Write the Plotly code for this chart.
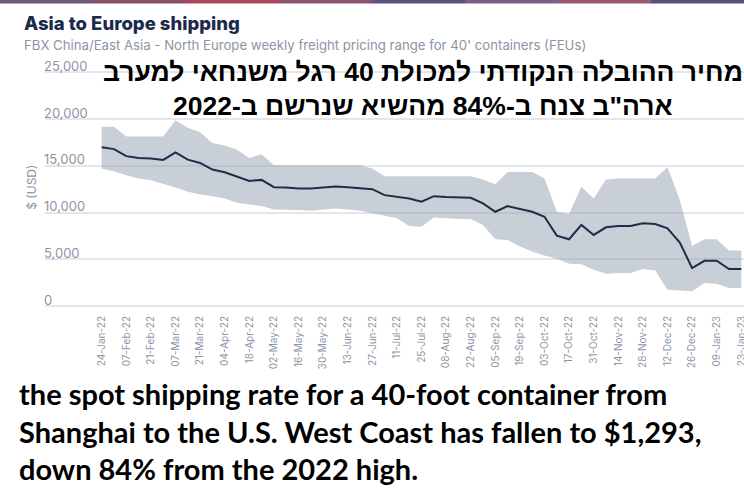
import datetime as dt
import plotly.graph_objects as go

# ---------------- data ----------------
weeks = [
    "2022-01-24", "2022-01-31", "2022-02-07", "2022-02-14", "2022-02-21", "2022-02-28",
    "2022-03-07", "2022-03-14", "2022-03-21", "2022-03-28", "2022-04-04", "2022-04-11",
    "2022-04-18", "2022-04-25", "2022-05-02", "2022-05-09", "2022-05-16", "2022-05-23",
    "2022-05-30", "2022-06-06", "2022-06-13", "2022-06-20", "2022-06-27", "2022-07-04",
    "2022-07-11", "2022-07-18", "2022-07-25", "2022-08-01", "2022-08-08", "2022-08-15",
    "2022-08-22", "2022-08-29", "2022-09-05", "2022-09-12", "2022-09-19", "2022-09-26",
    "2022-10-03", "2022-10-10", "2022-10-17", "2022-10-24", "2022-10-31", "2022-11-07",
    "2022-11-14", "2022-11-21", "2022-11-28", "2022-12-05", "2022-12-12", "2022-12-19",
    "2022-12-26", "2023-01-02", "2023-01-09", "2023-01-16", "2023-01-23",
]

price_mid = [
    17000, 16800, 16050, 15850, 15800, 15650, 16450, 15670, 15320, 14610,
    14330, 13830, 13400, 13510, 12730, 12700, 12590, 12590, 12700, 12800,
    12730, 12660, 12520, 11880, 11700, 11520, 11170, 11770, 11670, 11600,
    11600, 10990, 10100, 10710, 10390, 10100, 9570, 7550, 7160, 8690,
    7620, 8440, 8580, 8580, 8865, 8790, 8330, 6810, 4080, 4860,
    4860, 3970, 3970,
]

price_high = [
    19200, 19200, 18150, 18150, 18150, 18150, 19900, 19080, 18600, 17450,
    17200, 16740, 15850, 16240, 15070, 15070, 15070, 15070, 15070, 15070,
    15070, 15070, 14720, 13900, 13900, 13900, 13900, 13900, 13900, 13900,
    13900, 13545, 13050, 14360, 14360, 14360, 13650, 10100, 9860, 12770,
    11520, 13550, 13650, 13650, 13650, 13650, 14890, 11350, 6450, 7160,
    7160, 5960, 5960,
]

price_low = [
    14700, 14430, 14000, 13650, 13475, 13120, 12700, 12230, 11950, 11770,
    11520, 11060, 10890, 10710, 10350, 10350, 10280, 10210, 10350, 10460,
    10350, 10210, 9930, 9645, 9400, 8580, 8510, 9500, 9400, 9330,
    9330, 8690, 7160, 7090, 6380, 5850, 5425, 5070, 4540, 4500,
    3900, 3475, 3550, 3550, 3970, 3830, 1770, 1700, 1600, 2480,
    2410, 1950, 1950,
]

y_ticks = [0, 5000, 10000, 15000, 20000, 25000]

title_text = "Asia to Europe shipping"
subtitle_text = "FBX China/East Asia - North Europe weekly freight pricing range for 40' containers (FEUs)"
y_title = "$ (USD)"
hebrew_lines = [
    "מחיר ההובלה הנקודתי למכולת 40 רגל משנחאי למערב",
    "ארה\"ב צנח ב-84% מהשיא שנרשם ב-2022",
]
english_lines = [
    "the spot shipping rate for a 40-foot container from",
    "Shanghai to the U.S. West Coast has fallen to $1,293,",
    "down 84% from the 2022 high.",
]

# ---------------- layout geometry (pixels) ----------------
W, H = 744, 493
PLOT_L, PLOT_R = 45, 744
PLOT_T, PLOT_B = 52.0, 309.5
X_FIRST_PX, PX_PER_WEEK = 101.7, 12.3
Y0_PX, Y25K_PX = 306.7, 72.5


def px_x(x):
    return (x - PLOT_L) / (PLOT_R - PLOT_L)


def px_y(y):
    return (PLOT_B - y) / (PLOT_B - PLOT_T)


first = dt.datetime(2022, 1, 24)
x_left = first + dt.timedelta(days=7 * (PLOT_L - X_FIRST_PX) / PX_PER_WEEK)
x_right = first + dt.timedelta(days=7 * (PLOT_R - X_FIRST_PX) / PX_PER_WEEK)
ppu = (Y0_PX - Y25K_PX) / 25000.0
y_bottom = -(PLOT_B - Y0_PX) / ppu
y_top = 25000 + (Y25K_PX - PLOT_T) / ppu

GRAY = "#8c95a5"
NAVY = "#1e2d47"
UI_FONT = "Inter, Lato, sans-serif"

fig = go.Figure()
fig.add_trace(go.Scatter(
    x=weeks, y=price_low, mode="lines", line=dict(width=0, color="rgba(0,0,0,0)"),
    hoverinfo="skip", showlegend=False,
))
fig.add_trace(go.Scatter(
    x=weeks, y=price_high, mode="lines", line=dict(width=0, color="rgba(0,0,0,0)"),
    fill="tonexty", fillcolor="rgba(141,152,168,0.47)", hoverinfo="skip", showlegend=False,
))
fig.add_trace(go.Scatter(
    x=weeks, y=price_mid, mode="lines", line=dict(width=2, color=NAVY),
    showlegend=False,
))

annotations = [
    dict(text=title_text, x=px_x(22), y=px_y(22.7), xanchor="left", yanchor="middle",
         font=dict(family=UI_FONT, size=18.5, color="#1b2a4a", weight=800)),
    dict(text=subtitle_text, x=px_x(22), y=px_y(45), xanchor="left", yanchor="middle",
         font=dict(family=UI_FONT, size=13.2, color=GRAY)),
    dict(text=y_title, x=px_x(32), y=px_y(188), xanchor="center", yanchor="middle", textangle=-90,
         font=dict(family=UI_FONT, size=12, color=GRAY)),
]
for txt, yc in zip(hebrew_lines, [72, 106]):
    annotations.append(dict(
        text="<b>" + txt + "</b>", x=px_x(423), y=px_y(yc), xanchor="center", yanchor="middle",
        font=dict(family="Liberation Sans, DejaVu Sans, Arial, sans-serif", size=26.5, color="#000000"),
    ))
for txt, yc in zip(english_lines, [393.7, 431.8, 469.2]):
    annotations.append(dict(
        text="<b>" + txt + "</b>", x=px_x(17), y=px_y(yc), xanchor="left", yanchor="middle",
        font=dict(family="Lato, Open Sans, sans-serif", size=29, color="#000000"),
    ))
for a in annotations:
    a.update(xref="paper", yref="paper", showarrow=False)

# thin photo strip at very top
strip_colors = ["#6b5a78", "#8b4f68", "#a84a5c", "#8a5470", "#5f5384", "#7a6088", "#9a5a70", "#5d4f7c"]
shapes = []
n = len(strip_colors)
for k, c in enumerate(strip_colors):
    shapes.append(dict(type="rect", xref="paper", yref="paper",
                       x0=px_x(k * W / n), x1=px_x((k + 1) * W / n),
                       y0=px_y(3.3), y1=px_y(0), fillcolor=c, line=dict(width=0), layer="above"))

fig.update_layout(
    width=W, height=H,
    margin=dict(l=PLOT_L, r=W - PLOT_R, t=PLOT_T, b=H - PLOT_B, pad=0),
    paper_bgcolor="white", plot_bgcolor="white",
    showlegend=False,
    annotations=annotations,
    shapes=shapes,
    xaxis=dict(
        type="date", range=[x_left, x_right], tickmode="linear", tick0="2022-01-24",
        dtick=14 * 86400000, tickformat="%d-%b-%y", tickangle=-90,
        showgrid=False, zeroline=False, showline=False,
        ticks="outside", ticklen=2, tickcolor="rgba(0,0,0,0)",
        ticklabeloverflow="allow",
        tickfont=dict(family=UI_FONT, size=10, color=GRAY),
        automargin=False, fixedrange=True,
    ),
    yaxis=dict(
        range=[y_bottom, y_top], tickmode="array", tickvals=y_ticks,
        ticktext=[f"{v:,}" for v in y_ticks],
        showgrid=True, gridcolor="#e3e6ea", gridwidth=1.5,
        zeroline=False, showline=False, ticks="",
        ticklabelposition="inside top", ticklabelstandoff=-4, ticklabelshift=3,
        tickfont=dict(family=UI_FONT, size=13, color=GRAY),
        automargin=False, fixedrange=True,
    ),
)

fig.write_html("out.html", config={"displayModeBar": False},
               post_script="document.body.style.margin='0';document.body.style.overflow='hidden';")
